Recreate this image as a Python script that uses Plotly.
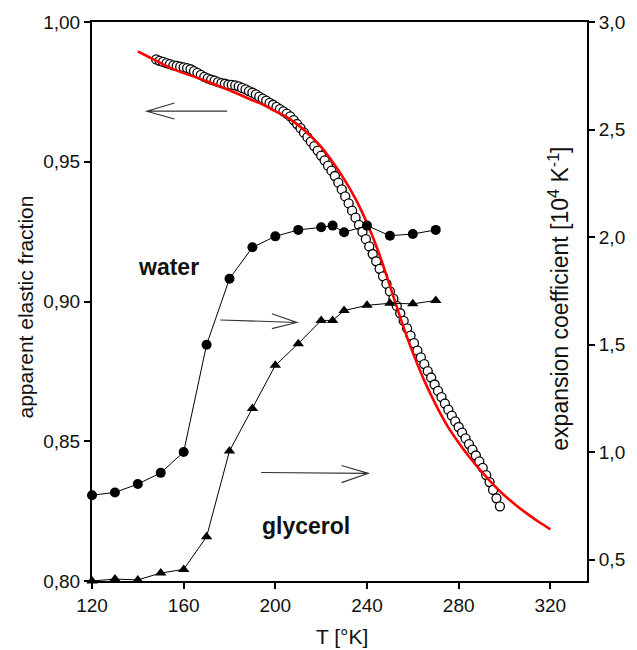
import plotly.graph_objects as go

# ---- data ----
T_points = [120, 130, 140, 150, 160, 170, 180, 190, 200, 210, 220, 225, 230, 240, 250, 260, 270]
water = [0.799, 0.812, 0.851, 0.903, 1.000, 1.499, 1.806, 1.952, 2.003, 2.033,
         2.045, 2.053, 2.022, 2.053, 2.006, 2.014, 2.033]
glycerol = [0.400, 0.409, 0.405, 0.437, 0.454, 0.606, 1.005, 1.202, 1.403, 1.504,
            1.612, 1.612, 1.658, 1.682, 1.692, 1.689, 1.705]

T_elastic = [148, 149.5, 151, 152.5, 154, 155.5, 157, 158.5, 160, 161.5,
             163, 164.5, 166, 167.5, 169, 170.5, 172, 173.5, 175, 176.5,
             178, 179.5, 181, 182.5, 184, 185.5, 187, 188.5, 190, 191.5,
             193, 194.5, 196, 197.5, 199, 200.5, 202, 203.5, 205, 206.5,
             208, 209.5, 211, 212.5, 214, 215.5, 217, 218.5, 220, 221.5,
             223, 224.5, 226, 227.5, 229, 230.5, 232, 233.5, 235, 236.5,
             238, 239.5, 241, 242.5, 244, 245.5, 247, 248.5, 250, 251.5,
             253, 254.5, 256, 257.5, 259, 260.5, 262, 263.5, 265, 266.5,
             268, 269.5, 271, 272.5, 274, 275.5, 277, 278.5, 280, 281.5,
             283, 284.5, 286, 287.5, 289, 290.5, 292, 293.5, 295, 296.5, 298]
elastic = [0.9866, 0.9861, 0.9857, 0.9853, 0.9849, 0.9845, 0.9843, 0.9840, 0.9838, 0.9835,
           0.9831, 0.9824, 0.9818, 0.9811, 0.9804, 0.9798, 0.9794, 0.9790, 0.9785, 0.9781,
           0.9779, 0.9776, 0.9775, 0.9773, 0.9770, 0.9764, 0.9759, 0.9753, 0.9747, 0.9741,
           0.9733, 0.9726, 0.9719, 0.9711, 0.9704, 0.9696, 0.9688, 0.9680, 0.9672, 0.9662,
           0.9649, 0.9635, 0.9620, 0.9604, 0.9588, 0.9572, 0.9556, 0.9540, 0.9522, 0.9505,
           0.9486, 0.9468, 0.9449, 0.9425, 0.9401, 0.9376, 0.9351, 0.9325, 0.9300, 0.9274,
           0.9249, 0.9223, 0.9197, 0.9170, 0.9144, 0.9117, 0.9090, 0.9063, 0.9036, 0.9010,
           0.8984, 0.8958, 0.8931, 0.8904, 0.8878, 0.8851, 0.8824, 0.8800, 0.8776, 0.8751,
           0.8728, 0.8703, 0.8680, 0.8658, 0.8635, 0.8613, 0.8592, 0.8571, 0.8551, 0.8531,
           0.8510, 0.8490, 0.8470, 0.8449, 0.8428, 0.8405, 0.8379, 0.8354, 0.8326, 0.8296, 0.8267]

T_fit = [140, 145, 150, 155, 160, 165, 170, 175, 180, 185, 190, 195, 200, 205, 210,
         215, 220, 225, 230, 235, 240, 245, 250, 255, 260, 265, 270, 275, 280, 285,
         290, 295, 300, 305, 310, 315, 320]
fit = [0.9895, 0.9874, 0.9853, 0.9833, 0.9817, 0.9803, 0.9788, 0.9772, 0.9756, 0.9738,
       0.9720, 0.9703, 0.9681, 0.9660, 0.9631, 0.9595, 0.9553, 0.9499, 0.9438, 0.9367,
       0.9281, 0.9178, 0.9056, 0.8931, 0.8817, 0.8717, 0.8631, 0.8556, 0.8495, 0.8440,
       0.8391, 0.8346, 0.8306, 0.8271, 0.8240, 0.8211, 0.8185]

x_ticks = [120, 160, 200, 240, 280, 320]
yl_ticks = [0.80, 0.85, 0.90, 0.95, 1.00]
yr_ticks = [0.5, 1.0, 1.5, 2.0, 2.5, 3.0]

FONT = "Arial, Liberation Sans, Helvetica, sans-serif"
INK = "#111111"

fig = go.Figure()

fig.add_trace(go.Scatter(
    x=T_elastic, y=elastic, mode="markers", yaxis="y", cliponaxis=False,
    marker=dict(symbol="circle", size=9, color="white",
                line=dict(color="black", width=1.3)),
    showlegend=False))

fig.add_trace(go.Scatter(
    x=T_fit, y=fit, mode="lines", yaxis="y", cliponaxis=False,
    line=dict(color="#ff0000", width=2.6, shape="spline", smoothing=0.6),
    showlegend=False))

fig.add_trace(go.Scatter(
    x=T_points, y=water, mode="lines+markers", yaxis="y2", cliponaxis=False,
    line=dict(color="black", width=1),
    marker=dict(symbol="circle", size=10, color="black"),
    showlegend=False))

fig.add_trace(go.Scatter(
    x=T_points, y=glycerol, mode="lines+markers", yaxis="y2", cliponaxis=False,
    line=dict(color="black", width=1),
    marker=dict(symbol="triangle-up", size=10, color="black"),
    showlegend=False))

arrow_style = dict(type="path", xref="x", yref="y",
                   line=dict(color="#333333", width=1.1))
shapes = [
    dict(arrow_style, path="M 179.0,0.9681 L 143.9,0.9681 M 156.0,0.9710 L 143.9,0.9681 L 156.0,0.9653"),
    dict(arrow_style, path="M 176.0,0.8934 L 209.4,0.8925 M 198.5,0.8956 L 209.4,0.8925 L 198.5,0.8903"),
    dict(arrow_style, path="M 193.8,0.8388 L 240.6,0.8385 M 228.9,0.8413 L 240.6,0.8385 L 228.9,0.8352"),
]

center = dict(xanchor="center", yanchor="middle", showarrow=False)
annotations = [
    dict(center, x=153.4, y=0.9122, xref="x", yref="y", text="<b>water</b>",
         font=dict(family=FONT, size=23, color=INK)),
    dict(center, x=213.3, y=0.8196, xref="x", yref="y", text="<b>glycerol</b>",
         font=dict(family=FONT, size=23, color=INK)),
    dict(center, x=-0.1345, y=0.490, xref="paper", yref="paper", text="apparent elastic fraction",
         textangle=-90, font=dict(family=FONT, size=21, color=INK)),
    dict(center, x=0.9428, y=0.5045, xref="paper", yref="paper",
         text="expansion coefficient [10<sup>4</sup> K<sup>-1</sup>]",
         textangle=-90, font=dict(family=FONT, size=23, color=INK)),
    dict(center, x=0.506, y=-0.1, xref="paper", yref="paper", text="T [°K]",
         font=dict(family=FONT, size=21, color=INK)),
]

fig.update_layout(
    width=637, height=650,
    margin=dict(l=92, r=47, t=21, b=69),
    paper_bgcolor="white", plot_bgcolor="white",
    separators=",.",
    font=dict(family=FONT, size=19, color=INK),
    shapes=shapes, annotations=annotations,
    xaxis=dict(range=[120, 336], tickvals=x_ticks, ticks="outside", ticklen=6, tickwidth=1.5,
               tickcolor="black", showline=True, linecolor="black", linewidth=2, mirror=True,
               showgrid=False, zeroline=False, tickfont=dict(size=19)),
    yaxis=dict(range=[0.80, 1.00], tickvals=yl_ticks, tickformat=".2f", ticks="outside",
               ticklen=6, tickwidth=1.5, tickcolor="black", showline=True, linecolor="black",
               linewidth=2, showgrid=False, zeroline=False, tickfont=dict(size=19)),
    yaxis2=dict(range=[0.4, 3.0], tickvals=yr_ticks, tickformat=".1f", overlaying="y",
                side="right", ticks="outside", ticklen=6, tickwidth=1.5, tickcolor="black",
                showline=True, linecolor="black", linewidth=2, showgrid=False, zeroline=False,
                tickfont=dict(size=19)),
)

fig.write_html("out.html")
